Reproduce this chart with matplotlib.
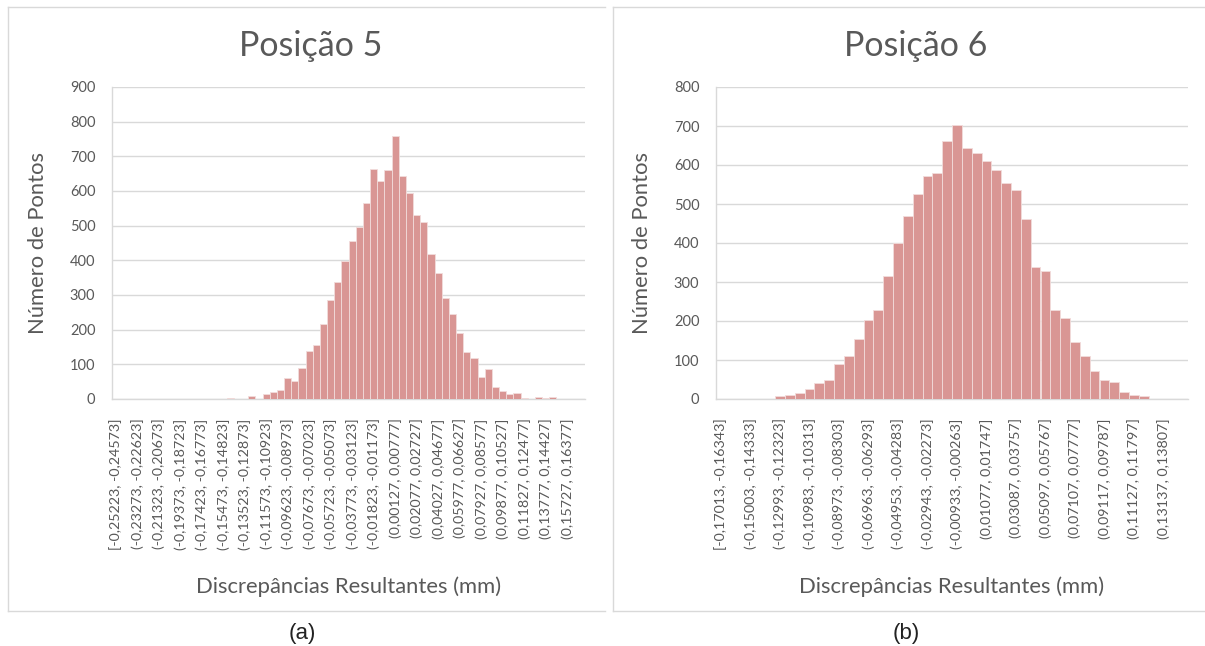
import numpy as np
import matplotlib
matplotlib.use("Agg")
import matplotlib.pyplot as plt
from matplotlib.lines import Line2D

# ---------------- data ----------------
counts_p5 = [0, 0, 0, 0, 0, 0, 0, 0, 0, 0, 0, 0, 0, 0, 0, 0,
             2, 0, 0, 10, 0, 13, 19, 26, 61, 53, 88, 139, 156, 215,
             287, 338, 397, 455, 496, 566, 663, 630, 660, 758, 644, 593,
             531, 511, 419, 363, 291, 244, 190, 135, 117, 64, 86, 35,
             24, 14, 16, 3, 1, 5, 2, 5, 0, 0, 0, 0]
labels_p5 = ["[-0,25223, -0,24573]", "(-0,23273, -0,22623]", "(-0,21323, -0,20673]",
             "(-0,19373, -0,18723]", "(-0,17423, -0,16773]", "(-0,15473, -0,14823]",
             "(-0,13523, -0,12873]", "(-0,11573, -0,10923]", "(-0,09623, -0,08973]",
             "(-0,07673, -0,07023]", "(-0,05723, -0,05073]", "(-0,03773, -0,03123]",
             "(-0,01823, -0,01173]", "(0,00127, 0,00777]", "(0,02077, 0,02727]",
             "(0,04027, 0,04677]", "(0,05977, 0,06627]", "(0,07927, 0,08577]",
             "(0,09877, 0,10527]", "(0,11827, 0,12477]", "(0,13777, 0,14427]",
             "(0,15727, 0,16377]"]

counts_p6 = [0, 0, 0, 0, 0, 0, 8, 10, 16, 26, 40, 48, 89, 109, 154, 203,
             229, 315, 400, 470, 525, 571, 579, 661, 703, 644, 631, 611,
             588, 553, 536, 462, 338, 327, 229, 207, 145, 111, 72, 49, 44,
             17, 10, 7, 0, 0, 0, 0]
labels_p6 = ["[-0,17013, -0,16343]", "(-0,15003, -0,14333]", "(-0,12993, -0,12323]",
             "(-0,10983, -0,10313]", "(-0,08973, -0,08303]", "(-0,06963, -0,06293]",
             "(-0,04953, -0,04283]", "(-0,02943, -0,02273]", "(-0,00933, -0,00263]",
             "(0,01077, 0,01747]", "(0,03087, 0,03757]", "(0,05097, 0,05767]",
             "(0,07107, 0,07777]", "(0,09117, 0,09787]", "(0,11127, 0,11797]",
             "(0,13137, 0,13807]"]

titles = ["Posição 5", "Posição 6"]
sublabels = ["(a)", "(b)"]
ymax = [900, 800]
xlabel = "Discrepâncias Resultantes (mm)"
ylabel = "Número de Pontos"

# ---------------- style ----------------
W, H = 1205, 646
plt.rcParams['font.family'] = ['Lato', 'DejaVu Sans']
TXT = '#595959'
GRID = '#D9D9D9'
BAR = '#D99694'

fig = plt.figure(figsize=(W / 100, H / 100), dpi=100)
fig.patch.set_facecolor('white')

def fx(px):
    return px / W

def fy(py):
    return 1 - py / H

# panel boxes (left, right, top, bottom)
boxes = [(8, 605, 7, 611), (613, 1205, 7, 611)]
for (l, r, t, b) in boxes:
    for xs, ys in [((l, r), (t, t)), ((l, l), (t, b)), ((l, r), (b, b))]:
        fig.add_artist(Line2D([fx(xs[0]), fx(xs[1])], [fy(ys[0]), fy(ys[1])],
                              color=GRID, lw=1.0, transform=fig.transFigure))

axes_px = [(112, 585, 87, 399), (716, 1188, 87, 399)]
title_x = [311, 916]
sub_x = [302, 906]
data = [(counts_p5, labels_p5), (counts_p6, labels_p6)]

for k in range(2):
    l, r, t, b = axes_px[k]
    ax = fig.add_axes([fx(l), fy(b), fx(r - l), (b - t) / H])
    counts, labels = data[k]
    n = len(counts)
    x = np.arange(n)
    ax.bar(x, counts, width=1.0, color=BAR, edgecolor='#F2DCDB', linewidth=0.6, zorder=3)
    ax.set_xlim(-0.5, n - 0.5)
    ax.set_ylim(0, ymax[k])
    ax.set_yticks(np.arange(0, ymax[k] + 1, 100))
    ax.yaxis.grid(True, color=GRID, lw=1.0, zorder=0)
    ax.set_axisbelow(True)
    ax.set_xticks(x[::3][:len(labels)])
    ax.set_xticklabels(labels, rotation=90, va='top', ha='center')
    for s in ['top', 'right']:
        ax.spines[s].set_visible(False)
    for s in ['left', 'bottom']:
        ax.spines[s].set_color(GRID)
        ax.spines[s].set_linewidth(1.0)
    ax.tick_params(axis='y', length=0, pad=12, labelsize=10.5, labelcolor=TXT)
    ax.tick_params(axis='x', length=0, pad=14, labelsize=10.3, labelcolor=TXT)
    ax.set_facecolor('none')

    # axis titles
    fig.text(fx((l + r) / 2), fy(587), xlabel, ha='center', va='center',
             fontsize=15.8, color=TXT)
    fig.text(fx(l - 74), fy((t + b) / 2), ylabel, ha='center', va='center',
             rotation=90, fontsize=15.8, color=TXT)
    fig.text(fx(title_x[k]), fy(56), titles[k], ha='center', va='baseline',
             fontsize=24.5, color=TXT)
    fig.text(fx(sub_x[k]), fy(633), sublabels[k], ha='center', va='center',
             fontsize=16, color='#222222', family=['Liberation Sans', 'DejaVu Sans'])

fig.savefig('out.png', dpi=100, facecolor='white')
